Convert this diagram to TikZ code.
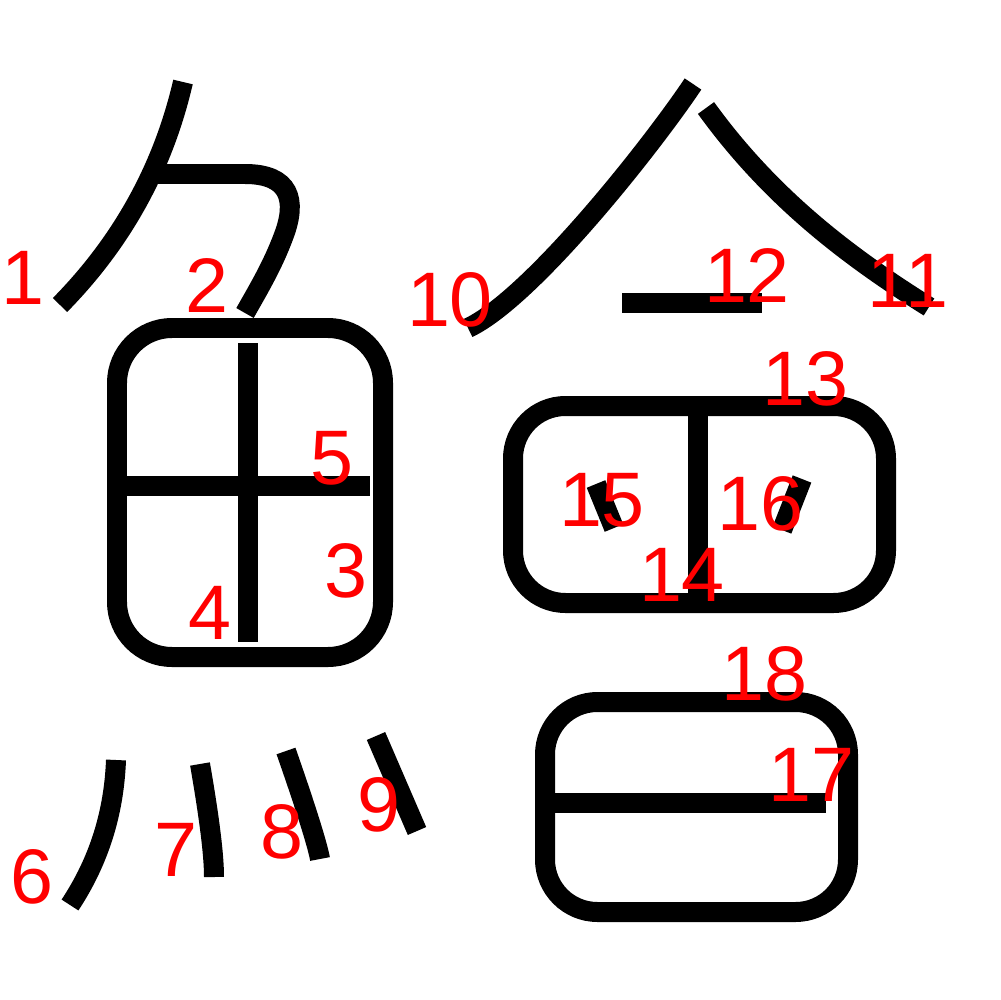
\documentclass[tikz,border=0pt]{standalone}
\usepackage{fontspec}
\setmainfont{Liberation Sans}
\begin{document}
\begin{tikzpicture}[x=0.02cm,y=-0.02cm,
  brush/.style={line width=0.4cm, draw=black},
  lbl/.style={text=red, font=\fontsize{44}{44}\selectfont, inner sep=0pt, anchor=center}]
\useasboundingbox (0,0) rectangle (1000,1000);
% left component
\draw[brush] (183,82) .. controls (163,168) and (122,242) .. (60,305);
\draw[brush] (150,174) -- (245,174) .. controls (290,174) and (297,200) .. (284,235) .. controls (273,265) and (258,290) .. (245,313);
\draw[brush, rounded corners=1.1cm] (117,328) rectangle (383,657);
\draw[brush] (248,343) -- (248,642);
\draw[brush] (117,486) -- (370,486);
\draw[brush] (116,760) .. controls (114,813) and (99,861) .. (70,905);
\draw[brush] (200,764) .. controls (209,816) and (214,854) .. (214,877);
\draw[brush] (286,751) .. controls (307,811) and (318,847) .. (320,859);
\draw[brush] (376,736) -- (417,831);
% right component
\draw[brush] (693,84) .. controls (653,144) and (532,298) .. (468,328);
\draw[brush] (706,108) .. controls (771,198) and (849,257) .. (929,307);
\draw[brush] (622,303) -- (762,303);
\draw[brush, rounded corners=1.05cm] (513,406) rectangle (886,603);
\draw[brush] (698,406) -- (698,603);
\draw[brush] (596,484) -- (614,528);
\draw[brush] (802,479) -- (782,530);
\draw[brush, rounded corners=1.05cm] (545,702) rectangle (848,912);
\draw[brush] (545,803) -- (826,803);
% labels
\node[lbl] (l1) at (23,278) {1};
\node[lbl] (l2) at (207,286) {2};
\node[lbl] (l3) at (346,571) {3};
\node[lbl] (l4) at (210,613) {4};
\node[lbl] (l5) at (332,458) {5};
\node[lbl] (l6) at (32,877) {6};
\node[lbl] (l7) at (176,850) {7};
\node[lbl] (l8) at (282,832) {8};
\node[lbl] (l9) at (379,805) {9};
\node[lbl] (l10) at (450,300) {10};
\node[lbl] (l11) at (908,281) {11};
\node[lbl] (l12) at (747,276) {12};
\node[lbl] (l13) at (805,379) {13};
\node[lbl] (l14) at (682,575) {14};
\node[lbl] (l15) at (602,500) {15};
\node[lbl] (l16) at (760,504) {16};
\node[lbl] (l17) at (811,775) {17};
\node[lbl] (l18) at (764,674) {18};
\end{tikzpicture}
\end{document}
